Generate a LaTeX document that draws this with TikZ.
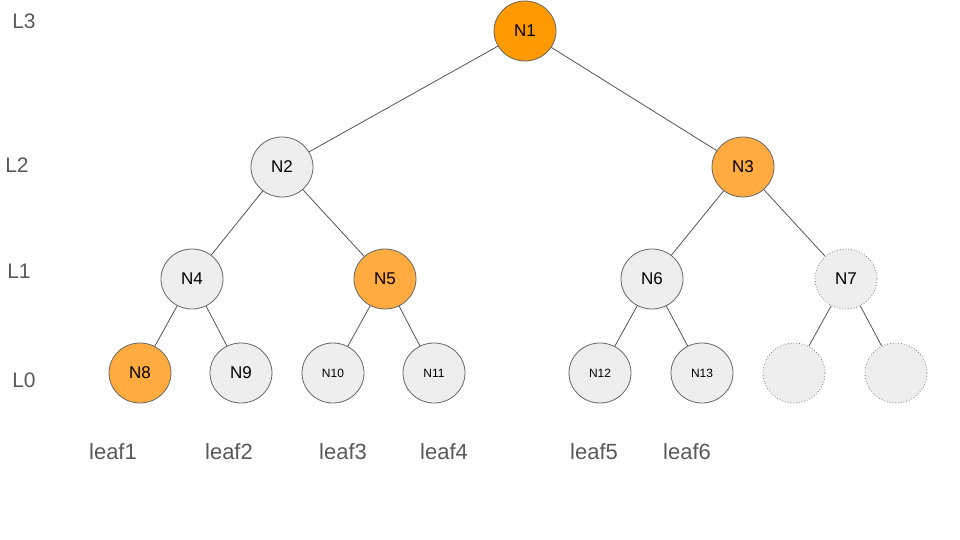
\documentclass[tikz,border=0pt]{standalone}
\usepackage{fontspec}
\setmainfont{Liberation Sans}
\usetikzlibrary{shapes.geometric}
\definecolor{darkor}{HTML}{FF9900}
\definecolor{lightor}{HTML}{FFAB40}
\definecolor{nodegray}{HTML}{EEEEEE}
\definecolor{bordergray}{HTML}{666666}
\definecolor{txtgray}{HTML}{595959}
\begin{document}
\begin{tikzpicture}[x=1pt,y=-1pt,
  tn/.style={ellipse,draw=bordergray,line width=0.8pt,fill=nodegray,minimum width=62pt,minimum height=60pt,inner sep=0pt,font=\fontsize{17}{19}\selectfont},
  small/.style={font=\fontsize{12}{14}\selectfont},
  hot/.style={fill=darkor},
  warm/.style={fill=lightor},
  ghost/.style={draw=gray,dotted,line width=0.8pt},
  edge/.style={draw=black!70,line width=0.75pt},
  lvl/.style={text=txtgray,font=\fontsize{21}{23}\selectfont},
  leafl/.style={text=txtgray,font=\fontsize{22}{24}\selectfont}]
\useasboundingbox (0,0) rectangle (960,540);
\node[tn,hot]  (n1) at (525,31) {N1};
\node[tn]      (n2) at (282,167) {N2};
\node[tn,warm] (n3) at (743,167) {N3};
\node[tn]      (n4) at (192,279) {N4};
\node[tn,warm] (n5) at (385,279) {N5};
\node[tn]      (n6) at (652,279) {N6};
\node[tn,ghost](n7) at (846,279) {N7};
\node[tn,warm] (n8) at (140,373) {N8};
\node[tn]      (n9) at (241,373) {N9};
\node[tn,small](n10) at (333,373) {N10};
\node[tn,small](n11) at (434,373) {N11};
\node[tn,small](n12) at (600,373) {N12};
\node[tn,small](n13) at (702,373) {N13};
\node[tn,ghost](n14) at (794,373) {};
\node[tn,ghost](n15) at (896,373) {};
\foreach \a/\b in {n1/n2,n1/n3,n2/n4,n2/n5,n3/n6,n3/n7,n4/n8,n4/n9,n5/n10,n5/n11,n6/n12,n6/n13,n7/n14,n7/n15}
  \draw[edge] (\a) -- (\b);
\node[lvl] (l3) at (24,21) {L3};
\node[lvl] (l2) at (17,165) {L2};
\node[lvl] (l1) at (19,271) {L1};
\node[lvl] (l0) at (24,380) {L0};
\node[leafl] (f1) at (113,452) {leaf1};
\node[leafl] (f2) at (229,452) {leaf2};
\node[leafl] (f3) at (343,452) {leaf3};
\node[leafl] (f4) at (444,452) {leaf4};
\node[leafl] (f5) at (594,452) {leaf5};
\node[leafl] (f6) at (687,452) {leaf6};
\end{tikzpicture}
\end{document}
